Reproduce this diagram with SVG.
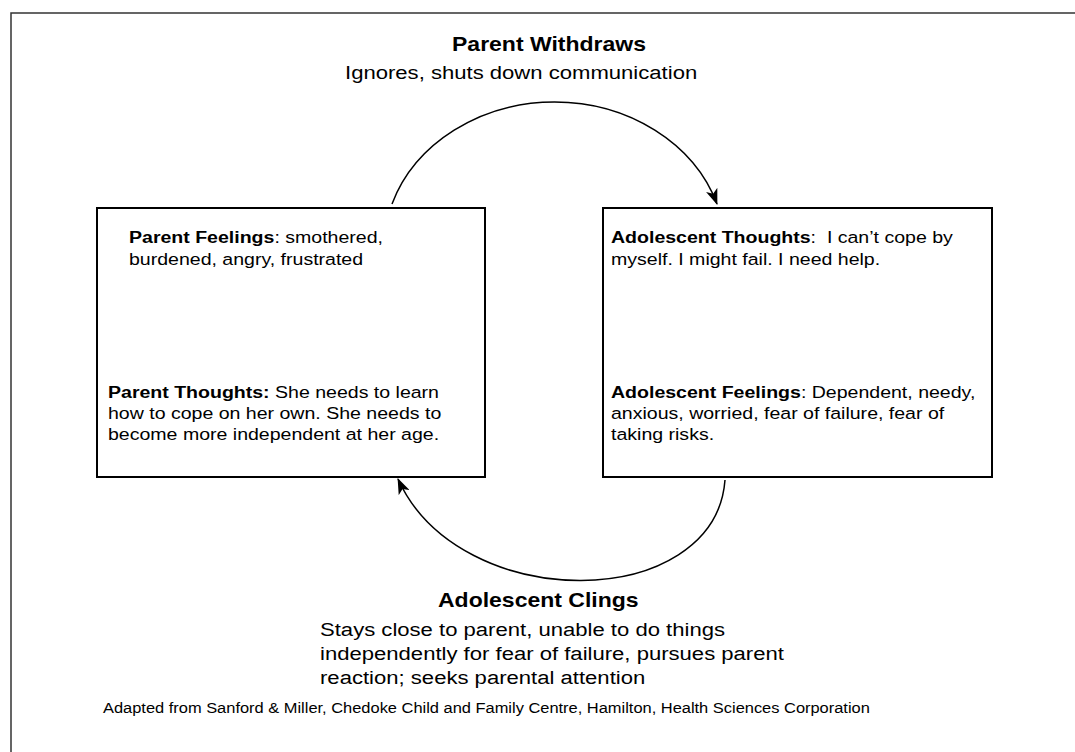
<svg xmlns="http://www.w3.org/2000/svg" width="1075" height="752" viewBox="0 0 1075 752">
<defs>
<marker id="ah" markerWidth="16" markerHeight="12" refX="15" refY="6" orient="auto" markerUnits="userSpaceOnUse">
<path d="M0,0 L16,6 L0,12 L4,6 z" fill="#000"/>
</marker>
</defs>
<style>
text{font-family:"Liberation Sans",Arial,sans-serif;fill:#000}
.b{font-weight:bold}
.box{fill:#fff;stroke:#000;stroke-width:2}
.head{font-size:20px;font-weight:bold}
.sub{font-size:19.2px}
.body{font-size:17px}
.foot{font-size:14.3px}
.conn{fill:none;stroke:#000;stroke-width:1.5}
.frame{fill:none;stroke:#333;stroke-width:1.5}
</style>
<rect width="1075" height="752" fill="#fff"/>
<path class="frame" d="M11,752 V13 H1075"/>

<g id="parent-withdraws">
<text class="head" transform="translate(452,51) scale(1.15,1)">Parent Withdraws</text>
<text class="sub" transform="translate(345,79) scale(1.15,1)">Ignores, shuts down communication</text>
</g>

<g id="parent-box">
<rect class="box" x="97" y="208" width="388" height="269"/>
<text class="body" transform="translate(129,243) scale(1.15,1)"><tspan class="b">Parent Feelings</tspan>: smothered,</text>
<text class="body" transform="translate(129,265) scale(1.15,1)">burdened, angry, frustrated</text>
<text class="body" transform="translate(108,398) scale(1.15,1)"><tspan class="b">Parent Thoughts:</tspan> She needs to learn</text>
<text class="body" transform="translate(108,419) scale(1.15,1)">how to cope on her own. She needs to</text>
<text class="body" transform="translate(108,440) scale(1.15,1)">become more independent at her age.</text>
</g>

<g id="adolescent-box">
<rect class="box" x="603" y="208" width="389" height="269"/>
<text class="body" transform="translate(611,243) scale(1.15,1)"><tspan class="b">Adolescent Thoughts</tspan>: &#160;I can’t cope by</text>
<text class="body" transform="translate(611,265) scale(1.15,1)">myself. I might fail. I need help.</text>
<text class="body" transform="translate(611,398) scale(1.15,1)"><tspan class="b">Adolescent Feelings</tspan>: Dependent, needy,</text>
<text class="body" transform="translate(611,419) scale(1.15,1)">anxious, worried, fear of failure, fear of</text>
<text class="body" transform="translate(611,440) scale(1.15,1)">taking risks.</text>
</g>

<g id="adolescent-clings">
<text class="head" transform="translate(438,607) scale(1.15,1)">Adolescent Clings</text>
<text class="sub" transform="translate(320,636) scale(1.15,1)">Stays close to parent, unable to do things</text>
<text class="sub" transform="translate(320,660) scale(1.15,1)">independently for fear of failure, pursues parent</text>
<text class="sub" transform="translate(320,684) scale(1.15,1)">reaction; seeks parental attention</text>
</g>

<g id="footer">
<text class="foot" transform="translate(103,713) scale(1.15,1)">Adapted from Sanford &amp; Miller, Chedoke Child and Family Centre, Hamilton, Health Sciences Corporation</text>
</g>

<g id="connectors">
<path class="conn" d="M392,204 A171,148 0 0,1 717,204" marker-end="url(#ah)"/>
<path class="conn" d="M725,480 C715,612 460,616 398,479" marker-end="url(#ah)"/>
</g>
</svg>
